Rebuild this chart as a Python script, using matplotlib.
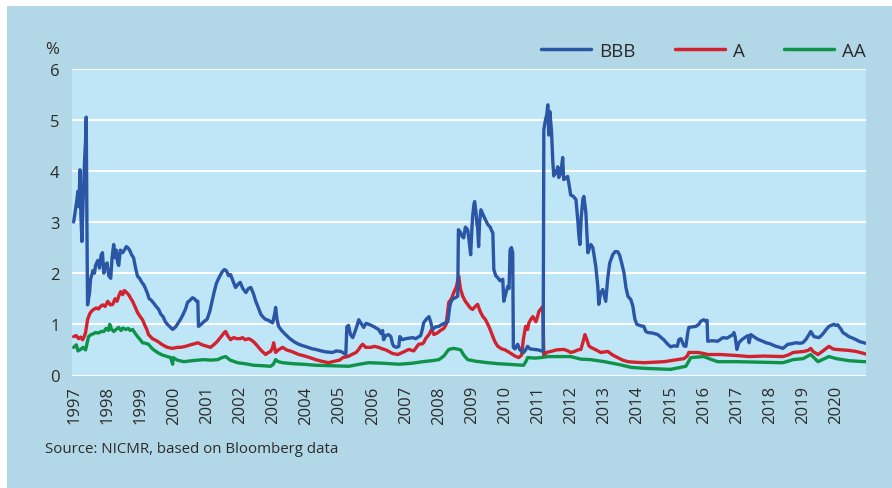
import matplotlib.pyplot as plt
from matplotlib.patches import Rectangle

plt.rcParams["font.family"] = ["Open Sans", "DejaVu Sans"]

# fractional year, spread in %
bbb_t = [1996.97, 1997.05, 1997.10, 1997.13, 1997.16, 1997.19, 1997.22, 1997.26, 1997.30, 1997.33,
         1997.35, 1997.37, 1997.39, 1997.45, 1997.48, 1997.55, 1997.60, 1997.63, 1997.70, 1997.75,
         1997.80, 1997.84, 1997.88, 1997.93, 1997.98, 1998.03, 1998.09, 1998.13, 1998.18, 1998.22,
         1998.26, 1998.30, 1998.33, 1998.38, 1998.45, 1998.50, 1998.56, 1998.60, 1998.66, 1998.72,
         1998.78, 1998.84, 1998.90, 1998.96, 1999.03, 1999.08, 1999.14, 1999.20, 1999.25, 1999.30,
         1999.38, 1999.46, 1999.54, 1999.60, 1999.67, 1999.74, 1999.80, 1999.88, 1999.96, 2000.05,
         2000.12, 2000.20, 2000.28, 2000.35, 2000.41, 2000.50, 2000.56, 2000.62, 2000.68, 2000.72,
         2000.74, 2000.82, 2000.90, 2001.00, 2001.08, 2001.15, 2001.22, 2001.28, 2001.35, 2001.45,
         2001.52, 2001.58, 2001.65, 2001.71, 2001.78, 2001.86, 2001.93, 2002.00, 2002.08, 2002.17,
         2002.25, 2002.32, 2002.40, 2002.47, 2002.55, 2002.62, 2002.68, 2002.76, 2002.85, 2002.92,
         2002.98, 2003.04, 2003.07, 2003.11, 2003.16, 2003.25, 2003.37, 2003.50, 2003.65, 2003.77,
         2003.90, 2004.05, 2004.18, 2004.28, 2004.45, 2004.60, 2004.79, 2004.90, 2005.04, 2005.12,
         2005.19, 2005.22, 2005.27, 2005.33, 2005.40, 2005.48, 2005.54, 2005.58, 2005.65, 2005.73,
         2005.80, 2005.88, 2005.96, 2006.05, 2006.12, 2006.18, 2006.25, 2006.30, 2006.33, 2006.40,
         2006.48, 2006.55, 2006.60, 2006.64, 2006.72, 2006.79, 2006.82, 2006.90, 2007.00, 2007.10,
         2007.21, 2007.30, 2007.40, 2007.45, 2007.50, 2007.54, 2007.62, 2007.70, 2007.75, 2007.81,
         2007.90, 2008.00, 2008.10, 2008.20, 2008.27, 2008.33, 2008.36, 2008.42, 2008.50, 2008.57,
         2008.59, 2008.65, 2008.70, 2008.75, 2008.80, 2008.87, 2008.92, 2008.96, 2009.00, 2009.02,
         2009.06, 2009.08, 2009.12, 2009.15, 2009.17, 2009.20, 2009.23, 2009.27, 2009.33, 2009.40,
         2009.48, 2009.55, 2009.60, 2009.63, 2009.66, 2009.72, 2009.78, 2009.85, 2009.93, 2009.96,
         2010.02, 2010.08, 2010.12, 2010.15, 2010.19, 2010.23, 2010.25, 2010.30, 2010.38, 2010.45,
         2010.56, 2010.62, 2010.68, 2010.75, 2010.87, 2011.00, 2011.10, 2011.15, 2011.17, 2011.22,
         2011.26, 2011.29, 2011.32, 2011.35, 2011.40, 2011.44, 2011.47, 2011.52, 2011.56, 2011.59,
         2011.62, 2011.68, 2011.74, 2011.77, 2011.83, 2011.89, 2011.94, 2011.98, 2012.06, 2012.14,
         2012.20, 2012.23, 2012.26, 2012.30, 2012.35, 2012.38, 2012.44, 2012.50, 2012.55, 2012.59,
         2012.65, 2012.70, 2012.74, 2012.80, 2012.83, 2012.88, 2012.95, 2013.00, 2013.04, 2013.10,
         2013.16, 2013.25, 2013.32, 2013.40, 2013.46, 2013.52, 2013.59, 2013.65, 2013.71, 2013.80,
         2013.86, 2013.92, 2013.98, 2014.10, 2014.19, 2014.25, 2014.31, 2014.45, 2014.61, 2014.70,
         2014.79, 2014.90, 2015.00, 2015.10, 2015.20, 2015.25, 2015.31, 2015.40, 2015.46, 2015.52,
         2015.55, 2015.65, 2015.76, 2015.85, 2015.91, 2016.00, 2016.06, 2016.10, 2016.12, 2016.25,
         2016.42, 2016.58, 2016.70, 2016.88, 2016.91, 2016.95, 2017.00, 2017.06, 2017.15, 2017.28,
         2017.34, 2017.37, 2017.42, 2017.51, 2017.60, 2017.66, 2017.78, 2017.88, 2018.00, 2018.18,
         2018.30, 2018.39, 2018.54, 2018.65, 2018.78, 2018.90, 2018.99, 2019.08, 2019.18, 2019.23,
         2019.33, 2019.40, 2019.48, 2019.55, 2019.63, 2019.70, 2019.78, 2019.85, 2019.93, 2019.98,
         2020.05, 2020.08, 2020.15, 2020.20, 2020.30, 2020.38, 2020.50, 2020.60, 2020.72, 2020.84,
         2020.88]
bbb_v = [3.00, 3.35, 3.60, 3.30, 4.02, 3.10, 2.62, 3.50, 4.20, 4.60,
         5.05, 3.00, 1.38, 1.62, 1.88, 2.05, 2.00, 2.15, 2.25, 2.10,
         2.35, 2.40, 2.00, 2.15, 2.20, 1.95, 1.90, 2.30, 2.56, 2.30,
         2.45, 2.20, 2.15, 2.45, 2.40, 2.45, 2.52, 2.50, 2.45, 2.36,
         2.30, 2.10, 1.94, 1.90, 1.82, 1.78, 1.70, 1.60, 1.50, 1.48,
         1.42, 1.35, 1.29, 1.20, 1.15, 1.05, 1.00, 0.95, 0.90, 0.95,
         1.02, 1.10, 1.20, 1.30, 1.43, 1.48, 1.52, 1.50, 1.45, 1.45,
         0.96, 1.00, 1.05, 1.10, 1.25, 1.45, 1.65, 1.80, 1.90, 2.02,
         2.07, 2.05, 1.95, 1.97, 1.85, 1.72, 1.78, 1.82, 1.70, 1.62,
         1.70, 1.72, 1.60, 1.45, 1.32, 1.20, 1.15, 1.10, 1.08, 1.05,
         1.03, 1.20, 1.33, 1.10, 0.96, 0.88, 0.80, 0.72, 0.65, 0.61,
         0.58, 0.55, 0.52, 0.51, 0.48, 0.46, 0.45, 0.48, 0.47, 0.44,
         0.41, 0.95, 0.98, 0.80, 0.74, 0.88, 1.00, 1.09, 1.02, 0.94,
         1.02, 1.00, 0.98, 0.95, 0.92, 0.90, 0.82, 0.88, 0.70, 0.78,
         0.80, 0.76, 0.62, 0.57, 0.55, 0.57, 0.76, 0.70, 0.72, 0.73,
         0.74, 0.72, 0.76, 0.78, 0.90, 1.03, 1.10, 1.15, 1.05, 0.90,
         0.95, 0.96, 1.00, 1.03, 1.05, 1.35, 1.43, 1.50, 1.52, 1.55,
         2.85, 2.80, 2.72, 2.69, 2.90, 2.85, 2.60, 2.36, 2.90, 3.11,
         3.35, 3.40, 3.20, 2.95, 2.91, 2.52, 3.00, 3.24, 3.15, 3.05,
         2.95, 2.90, 2.82, 2.79, 2.07, 1.95, 1.91, 1.85, 1.88, 1.45,
         1.60, 1.74, 1.70, 2.45, 2.50, 2.40, 0.55, 0.52, 0.61, 0.50,
         0.45, 0.50, 0.57, 0.52, 0.51, 0.50, 0.48, 0.47, 4.80, 5.00,
         5.10, 5.29, 4.70, 5.16, 4.80, 4.20, 3.90, 4.00, 3.95, 4.08,
         3.87, 3.95, 4.26, 3.83, 3.85, 3.89, 3.70, 3.53, 3.50, 3.44,
         3.00, 2.72, 2.56, 3.10, 3.45, 3.50, 3.18, 2.40, 2.50, 2.56,
         2.50, 2.30, 2.13, 1.74, 1.39, 1.60, 1.68, 1.55, 1.45, 1.90,
         2.20, 2.36, 2.42, 2.42, 2.35, 2.20, 2.01, 1.72, 1.55, 1.48,
         1.35, 1.10, 1.00, 0.97, 0.96, 0.86, 0.84, 0.83, 0.80, 0.75,
         0.70, 0.62, 0.56, 0.58, 0.57, 0.70, 0.72, 0.58, 0.57, 0.85,
         0.94, 0.95, 0.96, 1.00, 1.06, 1.09, 1.06, 1.08, 0.67, 0.68,
         0.67, 0.74, 0.73, 0.80, 0.84, 0.75, 0.51, 0.64, 0.70, 0.76,
         0.78, 0.64, 0.80, 0.76, 0.72, 0.70, 0.67, 0.64, 0.62, 0.57,
         0.55, 0.53, 0.61, 0.62, 0.64, 0.63, 0.64, 0.70, 0.80, 0.86,
         0.76, 0.75, 0.74, 0.78, 0.84, 0.90, 0.96, 0.98, 1.00, 0.98,
         0.99, 0.96, 0.90, 0.84, 0.80, 0.76, 0.73, 0.70, 0.66, 0.64,
         0.63]

a_t = [1996.97, 1997.05, 1997.12, 1997.18, 1997.24, 1997.30, 1997.33, 1997.39, 1997.45, 1997.50,
       1997.57, 1997.65, 1997.72, 1997.78, 1997.85, 1997.92, 1998.00, 1998.08, 1998.15, 1998.22,
       1998.28, 1998.33, 1998.39, 1998.45, 1998.50, 1998.54, 1998.60, 1998.63, 1998.70, 1998.75,
       1998.82, 1998.90, 1998.98, 1999.05, 1999.12, 1999.18, 1999.23, 1999.35, 1999.50, 1999.65,
       1999.80, 1999.95, 2000.10, 2000.20, 2000.35, 2000.50, 2000.62, 2000.72, 2000.85, 2001.00,
       2001.10, 2001.20, 2001.30, 2001.35, 2001.45, 2001.52, 2001.56, 2001.62, 2001.71, 2001.80,
       2001.90, 2002.00, 2002.07, 2002.15, 2002.25, 2002.32, 2002.42, 2002.53, 2002.62, 2002.70,
       2002.77, 2002.85, 2002.92, 2002.98, 2003.01, 2003.04, 2003.07, 2003.15, 2003.28, 2003.40,
       2003.55, 2003.77, 2003.95, 2004.10, 2004.28, 2004.45, 2004.67, 2004.85, 2005.00, 2005.10,
       2005.25, 2005.40, 2005.50, 2005.58, 2005.65, 2005.70, 2005.79, 2005.95, 2006.05, 2006.18,
       2006.30, 2006.40, 2006.49, 2006.60, 2006.76, 2006.90, 2007.09, 2007.24, 2007.39, 2007.50,
       2007.54, 2007.60, 2007.70, 2007.78, 2007.85, 2007.95, 2008.05, 2008.15, 2008.22, 2008.30,
       2008.38, 2008.45, 2008.52, 2008.56, 2008.60, 2008.65, 2008.72, 2008.80, 2008.87, 2008.95,
       2009.02, 2009.10, 2009.17, 2009.25, 2009.33, 2009.40, 2009.48, 2009.56, 2009.63, 2009.70,
       2009.78, 2009.90, 2010.00, 2010.08, 2010.20, 2010.30, 2010.41, 2010.50, 2010.55, 2010.62,
       2010.68, 2010.72, 2010.78, 2010.84, 2010.90, 2010.93, 2010.98, 2011.02, 2011.08, 2011.14,
       2011.17, 2011.25, 2011.38, 2011.55, 2011.77, 2011.90, 2011.98, 2012.10, 2012.20, 2012.29,
       2012.35, 2012.41, 2012.47, 2012.53, 2012.59, 2012.75, 2012.89, 2013.10, 2013.25, 2013.40,
       2013.55, 2013.71, 2013.90, 2014.19, 2014.50, 2014.80, 2015.10, 2015.40, 2015.50, 2015.55,
       2015.70, 2015.82, 2016.00, 2016.12, 2016.51, 2017.00, 2017.37, 2017.80, 2018.39, 2018.55,
       2018.70, 2019.02, 2019.15, 2019.23, 2019.30, 2019.45, 2019.60, 2019.78, 2019.90, 2019.99,
       2020.20, 2020.38, 2020.60, 2020.84, 2020.88]
a_v = [0.76, 0.78, 0.72, 0.75, 0.70, 0.78, 0.84, 1.09, 1.20, 1.25,
       1.29, 1.32, 1.30, 1.35, 1.38, 1.35, 1.45, 1.38, 1.39, 1.50,
       1.45, 1.55, 1.64, 1.58, 1.66, 1.64, 1.60, 1.58, 1.50, 1.45,
       1.35, 1.23, 1.15, 1.09, 0.98, 0.90, 0.80, 0.72, 0.67, 0.60,
       0.55, 0.53, 0.55, 0.55, 0.57, 0.60, 0.62, 0.64, 0.60, 0.57,
       0.55, 0.60, 0.66, 0.70, 0.78, 0.84, 0.86, 0.78, 0.70, 0.74,
       0.72, 0.72, 0.74, 0.70, 0.72, 0.70, 0.65, 0.57, 0.50, 0.45,
       0.41, 0.45, 0.47, 0.55, 0.64, 0.55, 0.45, 0.50, 0.55, 0.50,
       0.47, 0.41, 0.38, 0.35, 0.31, 0.28, 0.25, 0.28, 0.30, 0.35,
       0.37, 0.42, 0.45, 0.51, 0.58, 0.61, 0.55, 0.55, 0.57, 0.55,
       0.52, 0.50, 0.47, 0.43, 0.41, 0.45, 0.51, 0.48, 0.61, 0.62,
       0.64, 0.72, 0.80, 0.90, 0.80, 0.83, 0.88, 0.92, 1.00, 1.43,
       1.50, 1.62, 1.72, 1.82, 1.94, 1.70, 1.55, 1.45, 1.39, 1.32,
       1.29, 1.35, 1.39, 1.25, 1.15, 1.10, 1.00, 0.88, 0.76, 0.65,
       0.57, 0.52, 0.50, 0.47, 0.42, 0.38, 0.35, 0.40, 0.70, 0.96,
       0.90, 1.03, 1.10, 1.15, 1.08, 1.05, 1.15, 1.25, 1.30, 1.35,
       0.38, 0.45, 0.47, 0.50, 0.51, 0.48, 0.45, 0.47, 0.50, 0.51,
       0.65, 0.80, 0.70, 0.58, 0.55, 0.50, 0.45, 0.47, 0.40, 0.35,
       0.30, 0.27, 0.26, 0.25, 0.26, 0.27, 0.30, 0.33, 0.38, 0.45,
       0.45, 0.45, 0.43, 0.41, 0.41, 0.39, 0.37, 0.38, 0.37, 0.40,
       0.45, 0.47, 0.49, 0.53, 0.47, 0.41, 0.48, 0.57, 0.52, 0.51,
       0.50, 0.49, 0.47, 0.43, 0.42]

aa_t = [1996.97, 1997.05, 1997.10, 1997.18, 1997.25, 1997.33, 1997.42, 1997.50, 1997.58, 1997.63,
        1997.72, 1997.80, 1997.88, 1997.95, 1998.02, 1998.06, 1998.12, 1998.18, 1998.25, 1998.33,
        1998.40, 1998.46, 1998.54, 1998.62, 1998.68, 1998.75, 1998.82, 1998.90, 1998.98, 1999.05,
        1999.14, 1999.23, 1999.35, 1999.50, 1999.65, 1999.80, 1999.90, 1999.96, 1999.98, 2000.10,
        2000.30, 2000.55, 2000.90, 2001.10, 2001.32, 2001.45, 2001.56, 2001.70, 2001.92, 2002.15,
        2002.41, 2002.70, 2002.92, 2003.00, 2003.07, 2003.15, 2003.28, 2003.60, 2003.90, 2004.28,
        2004.80, 2005.28, 2005.60, 2005.88, 2006.30, 2006.79, 2007.20, 2007.51, 2007.80, 2008.00,
        2008.15, 2008.30, 2008.45, 2008.60, 2008.66, 2008.75, 2008.87, 2009.10, 2009.48, 2009.80,
        2010.08, 2010.30, 2010.56, 2010.65, 2010.68, 2010.90, 2011.08, 2011.30, 2011.59, 2011.98,
        2012.29, 2012.59, 2013.00, 2013.40, 2013.80, 2014.20, 2014.60, 2015.00, 2015.46, 2015.61,
        2015.80, 2016.00, 2016.20, 2016.42, 2017.00, 2017.70, 2018.39, 2018.70, 2019.00, 2019.23,
        2019.45, 2019.78, 2020.00, 2020.38, 2020.84, 2020.88]
aa_v = [0.55, 0.60, 0.48, 0.51, 0.55, 0.50, 0.76, 0.80, 0.82, 0.84,
        0.83, 0.86, 0.86, 0.92, 0.88, 1.00, 0.90, 0.86, 0.90, 0.94,
        0.88, 0.93, 0.90, 0.92, 0.88, 0.90, 0.83, 0.76, 0.70, 0.64,
        0.63, 0.61, 0.52, 0.45, 0.40, 0.37, 0.35, 0.22, 0.35, 0.30,
        0.27, 0.29, 0.31, 0.30, 0.31, 0.35, 0.37, 0.30, 0.25, 0.23,
        0.20, 0.19, 0.18, 0.22, 0.31, 0.27, 0.25, 0.23, 0.22, 0.20,
        0.19, 0.18, 0.22, 0.25, 0.24, 0.22, 0.24, 0.27, 0.29, 0.31,
        0.38, 0.51, 0.53, 0.51, 0.50, 0.40, 0.31, 0.28, 0.25, 0.23,
        0.22, 0.21, 0.20, 0.30, 0.35, 0.34, 0.35, 0.37, 0.37, 0.37,
        0.32, 0.31, 0.27, 0.22, 0.16, 0.14, 0.13, 0.12, 0.18, 0.35,
        0.36, 0.37, 0.32, 0.27, 0.27, 0.26, 0.25, 0.31, 0.33, 0.41,
        0.27, 0.37, 0.33, 0.29, 0.27, 0.27]

years = list(range(1997, 2021))

panel = "#b2d7e6"
plot_bg = "#bee6f7"
txt = "#2b2b2b"

# outer panel colour, with a thin white strip along the top and left edges
fig = plt.figure(figsize=(8.92, 4.89), dpi=100, facecolor=panel)
fig.patches.append(Rectangle((0, 0), 7 / 892, 1, transform=fig.transFigure,
                             facecolor="white", edgecolor="none", zorder=-5))
fig.patches.append(Rectangle((0, 1 - 7 / 489), 1, 7 / 489, transform=fig.transFigure,
                             facecolor="white", edgecolor="none", zorder=-5))
ax = fig.add_axes([72 / 892, 1 - 376.5 / 489, 794 / 892, 307 / 489])
ax.set_facecolor(plot_bg)

style = dict(lw=2.4, solid_joinstyle="round", solid_capstyle="round")
ax.plot(bbb_t, bbb_v, color="#2b55a5", label="BBB", zorder=3, **style)
ax.plot(a_t, a_v, color="#d1222e", label="A", zorder=2, **style)
ax.plot(aa_t, aa_v, color="#0e9348", label="AA", zorder=2, **style)

ax.set_ylim(0, 6)
ax.set_xlim(1996.92, 2020.9)
ax.set_yticks(range(0, 7))
ax.set_xticks(years)
ax.set_xticklabels([str(y) for y in years], rotation=90)
ax.grid(axis="y", color="white", lw=1.5)
ax.set_axisbelow(True)
for s in ax.spines.values():
    s.set_visible(False)
ax.tick_params(length=0, labelsize=12, labelcolor=txt)
ax.tick_params(axis="y", pad=9)
ax.tick_params(axis="x", pad=7)

fig.text(52 / 892, 1 - 50 / 489, "%", fontsize=12, color=txt, ha="center", va="center")
fig.text(45 / 892, 1 - 450 / 489, "Source: NICMR, based on Bloomberg data",
         fontsize=10.8, color=txt, ha="left", va="center")

leg = fig.legend(loc="center right", bbox_to_anchor=(866 / 892, 1 - 52 / 489), ncol=3,
                 frameon=False, fontsize=13.5, handlelength=2.67, handletextpad=0.43,
                 columnspacing=2.1, borderpad=0, borderaxespad=0)
for t in leg.get_texts():
    t.set_color(txt)
for h in leg.get_lines():
    h.set_linewidth(2.5)

fig.savefig("out.png", dpi=100, facecolor=fig.get_facecolor())
